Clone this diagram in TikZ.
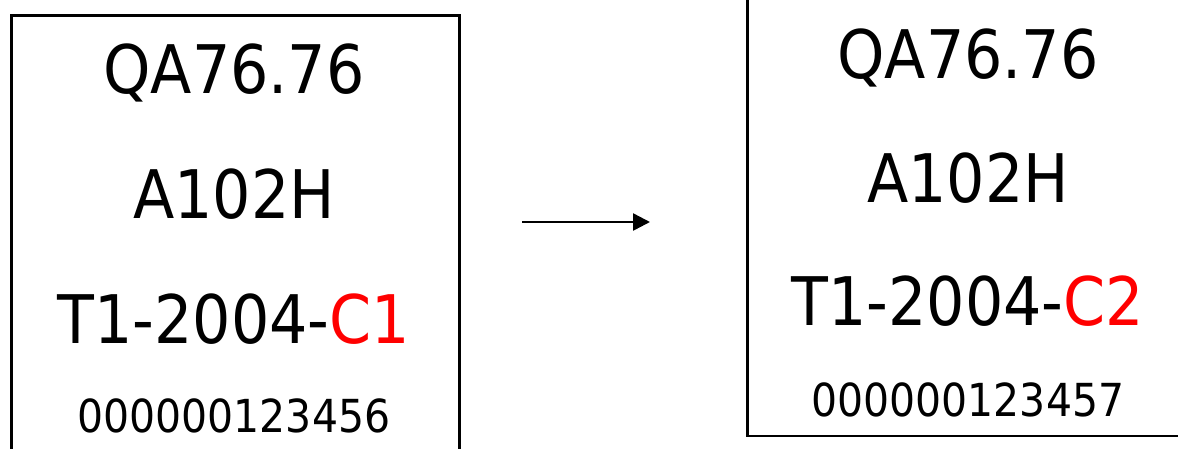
\documentclass[tikz,border=0pt]{standalone}
\usepackage{fontspec}
\setmainfont{DejaVu Sans Condensed}
\usetikzlibrary{arrows.meta}
\begin{document}
\begin{tikzpicture}[x=1pt,y=-1pt,
  card/.style={draw=black, rectangle, inner sep=0pt, fill=none},
  big/.style={anchor=base, inner sep=0pt, font=\fontsize{67}{67}\selectfont},
  small/.style={anchor=base, inner sep=0pt, font=\fontsize{45.5}{45.5}\selectfont},
  conn/.style={draw=black, line width=2.5pt, -{Triangle[length=17pt,width=17pt]}}]
\useasboundingbox (0,0) rectangle (1178,448);
% left card
\node[card, line width=3pt, minimum width=448pt, minimum height=450pt, anchor=north west] (L) at (10,14) {};
\node[big] (l1) at (234,93) {QA76.76};
\node[big] (l2) at (234,218) {A102H};
\node[big] (l3) at (234,343) {T1-2004-\textcolor{red}{C1}};
\node[small] (l4) at (234,432) {000000123456};
% right card
\node[card, line width=2.5pt, minimum width=444pt, minimum height=450pt, anchor=south west] (R) at (746,437) {};
\node[big] (r1) at (968,78) {QA76.76};
\node[big] (r2) at (968,202) {A102H};
\node[big] (r3) at (968,325) {T1-2004-\textcolor{red}{C2}};
\node[small] (r4) at (968,416) {000000123457};
% arrow
\coordinate (a0) at (522,222);
\coordinate (a1) at (650,222);
\draw[conn] (a0) -- (a1);
\end{tikzpicture}
\end{document}
